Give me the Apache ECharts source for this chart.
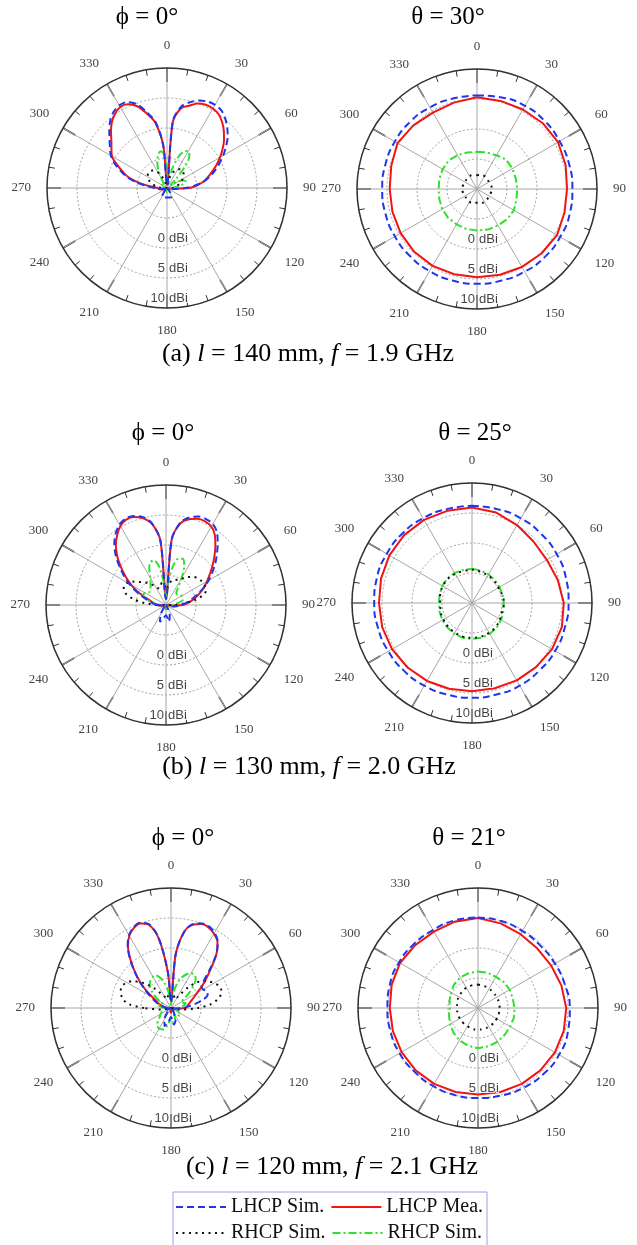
<!DOCTYPE html>
<html><head><meta charset="utf-8">
<script src="https://cdn.jsdelivr.net/npm/echarts@6/dist/echarts.min.js"></script>
<style>html,body{margin:0;padding:0;background:#fff}#c{width:637px;height:1245px}</style>
</head><body><div id="c"></div>
<script>
// ---------- angles ----------
const ELEV_ANGLES = [270,275,280,285,290,295,300,305,310,315,320,325,330,335,340,345,350,355,
  0,5,10,15,20,25,30,35,40,45,50,55,60,65,70,75,80,85,90,
  100,110,120,130,140,150,160,170,180,190,200,210,220,230,240,250,260];
const AZ_ANGLES = [0,15,30,45,60,75,90,105,120,135,150,165,180,195,210,225,240,255,270,285,300,315,330,345];

// ---------- (a) l = 140 mm, phi = 0 cut (dBi) ----------
const A_RED_E = [-8.5,-7.3,-5.5,-3.5,-2.2,-0.8,0.6,1.3,2.1,3.2,4.3,5.1,5.6,5.4,4.5,2.8,1.0,-3.0,
  -9.5,1.0,3.5,4.2,5.0,5.3,5.3,5.0,4.3,3.4,2.4,1.3,0.2,-0.9,-2.0,-2.9,-3.8,-5.0,-6.3,
  -9.5,-9.8,-10,-10,-10,-10,-10,-10,-10,-10,-10,-10,-10,-10,-9.8,-9.3,-8.7];
const A_BLUE_E = [-8,-6.8,-5.0,-3.2,-1.8,-0.4,0.8,1.6,2.5,3.6,4.7,5.5,5.9,5.8,4.9,3.1,1.2,-2.8,
  -9.5,1.2,3.8,4.8,5.5,5.9,6.0,5.8,5.1,4.2,3.2,2.0,0.8,-0.4,-1.5,-2.6,-3.8,-5.3,-7.0,
  -9,-9.5,-10,-10,-9.5,-8.4,-8.3,-8.4,-8.4,-8.4,-8.3,-8.4,-9.5,-10,-10,-9.6,-9];
const A_GREEN_E = [-10,-9.6,-9.3,-9.4,-9.8,-9.6,-9.2,-9.0,-9.1,-9.4,-9.5,-9.0,-8.0,-6.5,-5.3,-4.3,-3.8,-4.3,
  -6.5,-9.0,-9.2,-6.8,-4.5,-3.3,-2.9,-3.5,-5.5,-8.0,-9.3,-8.8,-7.8,-7.0,-6.7,-7.0,-7.8,-8.8,-9.5,
  -9.8,-10,-10,-10,-10,-10,-9.8,-9.5,-9.3,-9.5,-9.8,-10,-10,-10,-10,-10,-10];
const A_BLACK_E = [-9.0,-8.5,-8.0,-7.5,-7.0,-6.6,-6.3,-6.1,-6.0,-6.0,-6.2,-6.5,-7.0,-7.7,-8.4,-9.0,-9.4,-9.7,
  -9.8,-9.5,-8.8,-8.0,-7.3,-6.8,-6.4,-6.2,-6.1,-6.2,-6.4,-6.7,-7.0,-7.4,-7.8,-8.1,-8.4,-8.7,-9.0,
  -10,-10,-10,-10,-10,-10,-10,-10,-10,-10,-10,-10,-10,-10,-10,-10,-10];

// ---------- (a) theta = 30 cut ----------
const A_RED_AZ = [5.3,5.2,5.3,5.5,5.6,5.3,5.0,5.1,5.4,5.2,5.0,4.8,4.7,4.7,4.8,4.8,4.7,4.6,4.55,4.8,5.3,5.0,4.7,4.9];
const A_BLUE_AZ = [5.6,5.8,6.0,6.0,5.9,5.9,5.9,6.0,6.0,6.0,5.9,5.8,5.8,5.8,5.8,5.8,5.8,5.8,5.8,5.8,5.8,5.8,5.7,5.6];
const A_GREEN_AZ = [-3.8,-3.7,-3.5,-3.1,-3.2,-3.3,-3.3,-3.2,-2.9,-2.9,-3.0,-3.0,-3.1,-3.1,-3.2,-3.2,-3.3,-3.5,-3.6,-3.5,-3.4,-3.3,-3.5,-3.7];
const A_BLACK_AZ = [-7.7,-7.6,-7.5,-7.6,-7.7,-7.6,-7.5,-7.6,-7.7,-7.6,-7.5,-7.6,-7.7,-7.6,-7.5,-7.6,-7.7,-7.6,-7.5,-7.6,-7.7,-7.6,-7.5,-7.6];

// ---------- (b) l = 130 mm, phi = 0 cut ----------
const B_RED_E = [-8.5,-8.2,-7.8,-7.3,-6.3,-4.8,-3.3,-1.8,-0.2,1.5,3.0,4.2,5.2,5.7,5.6,5.0,3.8,0.8,
  -9.0,1.0,3.8,4.8,5.3,5.4,5.1,4.2,2.8,1.4,0.1,-1.1,-2.1,-3.0,-3.9,-4.8,-5.6,-6.4,-7.2,
  -9.5,-10,-10,-10,-10,-10,-10,-9.5,-9.3,-9.5,-10,-10,-10,-10,-10,-10,-9.2];
const B_BLUE_E = [-8.5,-8.0,-7.5,-6.8,-5.8,-4.4,-2.9,-1.4,0.2,1.9,3.4,4.6,5.5,5.9,5.8,5.2,3.9,0.8,
  -9.0,1.0,4.0,5.1,5.7,5.8,5.6,4.8,3.4,2.0,0.7,-0.6,-1.8,-3.0,-4.2,-5.2,-6.0,-6.8,-7.5,
  -8.5,-9.5,-10,-10,-10,-9.5,-8.2,-7.2,-8.3,-7.8,-7.0,-8.3,-9.5,-10,-10,-10,-9.5];
const B_GREEN_E = [-9.0,-8.5,-7.6,-6.7,-6.0,-5.8,-6.0,-6.4,-6.5,-6.3,-6.0,-5.5,-4.8,-3.4,-2.4,-2.3,-3.6,-6.5,
  -8.5,-6.5,-3.5,-2.0,-1.8,-2.8,-4.8,-6.5,-7.3,-7.5,-7.3,-7.1,-7.0,-7.0,-7.0,-7.2,-7.8,-8.5,-9.0,
  -9.5,-10,-10,-10,-10,-10,-10,-9.6,-9.3,-9.6,-10,-10,-10,-10,-10,-10,-9.5];
const B_BLACK_E = [-8.5,-6.5,-4.6,-3.2,-2.5,-2.3,-2.6,-3.2,-4.0,-4.6,-5.2,-5.8,-6.4,-6.9,-7.0,-6.6,-6.2,-6.6,
  -7.5,-7.0,-6.2,-5.7,-5.5,-5.4,-5.0,-4.4,-3.9,-3.4,-3.1,-2.9,-2.8,-2.8,-2.9,-3.6,-5.0,-7.0,-8.5,
  -10,-10,-10,-10,-10,-10,-10,-10,-10,-10,-10,-10,-10,-10,-10,-10,-10];

// ---------- (b) theta = 25 cut ----------
const B_RED_AZ = [5.9,5.6,5.0,4.5,4.4,4.8,5.3,5.5,5.4,5.1,4.9,4.7,4.7,4.8,5.0,5.2,5.4,5.5,5.5,5.7,5.9,6.0,6.0,5.9];
const B_BLUE_AZ = [6.2,6.2,6.3,6.3,6.3,6.2,6.1,6.0,6.0,5.9,5.9,5.8,5.8,5.8,5.9,6.0,6.1,6.2,6.3,6.4,6.4,6.4,6.3,6.2];
const B_GREEN_AZ = [-4.3,-4.4,-4.5,-4.6,-4.7,-4.7,-4.7,-4.6,-4.4,-4.2,-4.1,-4.0,-4.0,-4.0,-4.1,-4.2,-4.3,-4.4,-4.5,-4.4,-4.3,-4.2,-4.2,-4.3];
const B_BLACK_AZ = [-4.4,-4.6,-4.7,-4.8,-4.9,-4.8,-4.7,-4.8,-4.6,-4.4,-4.3,-4.2,-4.2,-4.2,-4.3,-4.4,-4.5,-4.6,-4.7,-4.5,-4.4,-4.3,-4.4,-4.5];

// ---------- (c) l = 120 mm, phi = 0 cut ----------
const C_RED_E = [-9.5,-9.2,-8.8,-8.3,-7.8,-7.3,-6.5,-5.0,-3.3,-1.5,0.5,2.5,3.9,4.7,5.0,4.4,1.8,-4.0,
  -9.0,-1.0,3.0,4.4,4.9,4.8,4.3,3.5,1.8,-0.5,-2.3,-3.7,-5.0,-5.8,-6.4,-6.8,-7.1,-7.3,-7.5,
  -9.5,-10,-10,-10,-10,-10,-10,-9.5,-9.2,-9.5,-10,-10,-10,-10,-10,-10,-9.8];
const C_BLUE_E = [-9.5,-9.0,-8.5,-8.0,-7.5,-6.8,-6.0,-4.8,-3.2,-1.4,0.6,2.6,4.0,4.8,5.1,4.5,1.9,-4.0,
  -9.0,-1.0,3.0,4.5,5.0,5.0,4.5,3.6,1.8,-0.8,-2.8,-3.8,-3.8,-3.4,-3.5,-4.4,-5.8,-7.3,-8.0,
  -9.5,-10,-10,-10,-9.5,-9.0,-7.8,-7.2,-8.5,-7.6,-6.8,-7.8,-9.0,-9.5,-9.2,-9.5,-10];
const C_GREEN_E = [-9.0,-8.5,-8.0,-8.0,-8.5,-8.5,-8.0,-7.0,-6.0,-5.0,-4.5,-4.2,-4.0,-4.0,-4.6,-5.6,-7.0,-8.5,
  -9.5,-8.5,-7.0,-5.5,-4.5,-3.8,-3.3,-3.2,-3.6,-4.6,-6.0,-7.4,-8.0,-8.0,-7.5,-7.5,-8.0,-8.5,-9.0,
  -9.5,-9.0,-8.5,-8.0,-8.5,-9.0,-8.0,-7.5,-8.5,-7.2,-6.2,-6.0,-6.4,-7.5,-8.0,-8.5,-9.0];
const C_BLACK_E = [-5.5,-3.0,-1.9,-1.4,-1.1,-1.1,-1.5,-2.2,-3.3,-4.5,-5.8,-7.0,-7.8,-8.3,-8.4,-8.0,-7.8,-8.0,
  -8.5,-8.0,-7.8,-8.0,-8.4,-8.4,-8.0,-7.0,-5.5,-4.0,-3.0,-2.3,-1.7,-1.2,-1.1,-1.4,-2.2,-3.5,-5.5,
  -8.5,-10,-10,-10,-10,-10,-10,-10,-10,-10,-10,-10,-10,-10,-10,-10,-8.5];

// ---------- (c) theta = 21 cut ----------
const C_RED_AZ = [5.0,4.6,4.2,4.0,4.1,4.4,4.7,4.8,4.8,4.7,4.6,4.5,4.4,4.5,4.6,4.7,4.7,4.7,4.7,4.9,5.0,4.8,4.7,4.9];
const C_BLUE_AZ = [5.1,5.0,4.8,4.7,4.8,5.0,5.3,5.5,5.6,5.5,5.3,5.1,5.0,5.0,5.0,5.0,5.1,5.1,5.1,5.2,5.2,5.1,5.0,5.1];
const C_GREEN_AZ = [-3.9,-3.9,-4.0,-3.9,-3.9,-4.0,-3.9,-3.8,-3.8,-3.7,-3.5,-3.4,-3.3,-3.5,-3.8,-4.2,-4.6,-5.0,-5.3,-5.1,-4.8,-4.4,-4.1,-4.0];
const C_BLACK_AZ = [-6.1,-6.2,-6.3,-6.4,-6.4,-6.4,-6.4,-6.4,-6.4,-6.4,-6.4,-6.4,-6.4,-6.4,-6.5,-6.5,-6.5,-6.5,-6.5,-6.4,-6.3,-6.2,-6.1,-6.1];

// ---------- texts ----------
const TITLES = ['\u03d5 = 0\u00b0', '\u03b8 = 30\u00b0', '\u03d5 = 0\u00b0', '\u03b8 = 25\u00b0', '\u03d5 = 0\u00b0', '\u03b8 = 21\u00b0'];
const CAPTIONS = ['(a) {i|l} = 140 mm, {i|f} = 1.9 GHz', '(b) {i|l} = 130 mm, {i|f} = 2.0 GHz', '(c) {i|l} = 120 mm, {i|f} = 2.1 GHz'];
const RADIAL_TICKS = [0, 5, 10];
const RADIAL_UNIT = 'dBi';
const NAMES = {blue: 'LHCP Sim.', red: 'LHCP Mea.', black: 'RHCP Sim.', green: 'RHCP Sim.|g'};

// ---------- layout ----------
const LAYOUT = [
  {center: [167, 188], title: [147, 17]},
  {center: [477, 189], title: [448, 17]},
  {center: [166, 605], title: [163, 433]},
  {center: [472, 603], title: [475, 433]},
  {center: [171, 1008], title: [183, 838]},
  {center: [478, 1008], title: [469, 838]}
];
const CAPTION_POS = [[308, 354], [309, 767], [332, 1167]];
const PLOTS = [
  {angles: ELEV_ANGLES, red: A_RED_E, blue: A_BLUE_E, green: A_GREEN_E, black: A_BLACK_E, elev: true},
  {angles: AZ_ANGLES, red: A_RED_AZ, blue: A_BLUE_AZ, green: A_GREEN_AZ, black: A_BLACK_AZ, elev: false},
  {angles: ELEV_ANGLES, red: B_RED_E, blue: B_BLUE_E, green: B_GREEN_E, black: B_BLACK_E, elev: true},
  {angles: AZ_ANGLES, red: B_RED_AZ, blue: B_BLUE_AZ, green: B_GREEN_AZ, black: B_BLACK_AZ, elev: false},
  {angles: ELEV_ANGLES, red: C_RED_E, blue: C_BLUE_E, green: C_GREEN_E, black: C_BLACK_E, elev: true},
  {angles: AZ_ANGLES, red: C_RED_AZ, blue: C_BLUE_AZ, green: C_GREEN_AZ, black: C_BLACK_AZ, elev: false}
];
const STYLE = {
  red:   {color: '#f01414', type: 'solid', width: 2},
  green: {color: '#2ee02e', type: [8, 3, 2, 3], width: 2},
  black: {color: '#111111', type: [2, 4.5], width: 2},
  blue:  {color: '#1f35ee', type: [7, 4], width: 2}
};
const SERIF = '"Liberation Serif", "Times New Roman", serif';
const SANS = '"Liberation Sans", Arial, sans-serif';

const polar = [], angleAxis = [], radiusAxis = [], series = [], graphic = [];

function loop(angles, vals) {
  const d = angles.map((a, i) => [vals[i], a]);
  d.push(d[0]);
  return d;
}

LAYOUT.forEach((L, i) => {
  polar.push({center: L.center, radius: [0, 120]});
  angleAxis.push({
    polarIndex: i, type: 'value', min: 0, max: 360, interval: 30,
    startAngle: 90, clockwise: true,
    axisLine: {show: true, lineStyle: {color: '#333', width: 1.5}},
    axisTick: {show: true, inside: true, length: 14, lineStyle: {color: '#333', width: 1.5}},
    minorTick: {show: true, splitNumber: 3, length: 6, lineStyle: {color: '#333', width: 1}},
    splitLine: {show: true, lineStyle: {color: '#a8a8a8', width: 1}},
    axisLabel: {margin: 16, fontFamily: SERIF, fontSize: 13, color: '#444',
      formatter: v => (v === 360 ? '' : String(v))}
  });
  radiusAxis.push({
    polarIndex: i, type: 'value', min: -10, max: 10, interval: 5,
    axisLine: {show: false}, axisTick: {show: false}, axisLabel: {show: false},
    splitLine: {show: true, lineStyle: {color: '#a0a0a0', width: 1, type: [2, 2]}}
  });
  const P = PLOTS[i];
  ['red', 'green', 'black', 'blue'].forEach(k => {
    let smooth = 0;
    if (P.elev) smooth = 0.3;
    else if (k === 'blue' || k === 'black') smooth = 0.5;
    series.push({
      type: 'line', name: NAMES[k], coordinateSystem: 'polar', polarIndex: i,
      data: loop(P.angles, P[k]), symbol: 'none', showSymbol: false, smooth: smooth,
      lineStyle: STYLE[k], itemStyle: {color: STYLE[k].color},
      silent: true, animation: false, clip: true
    });
  });
  const labelData = [];
  RADIAL_TICKS.forEach(t => {
    labelData.push({value: [t, 180], label: {formatter: String(t), align: 'right', offset: [-2, 0]}});
    labelData.push({value: [t, 180], label: {formatter: RADIAL_UNIT, align: 'left', offset: [2, 0]}});
  });
  series.push({
    type: 'scatter', name: 'radial-labels', coordinateSystem: 'polar', polarIndex: i,
    symbolSize: 0, silent: true, animation: false, clip: false, z: 5,
    label: {show: true, position: 'top', distance: 3, fontFamily: SANS, fontSize: 13,
      color: '#111', textBorderColor: '#fff', textBorderWidth: 2},
    data: labelData
  });
  graphic.push({
    type: 'text', x: L.title[0], y: L.title[1], silent: true,
    style: {text: TITLES[i], fill: '#000', fontSize: 25, fontFamily: SERIF,
      align: 'center', verticalAlign: 'middle', textAlign: 'center', textVerticalAlign: 'middle'}
  });
});

CAPTIONS.forEach((c, i) => {
  graphic.push({
    type: 'text', x: CAPTION_POS[i][0], y: CAPTION_POS[i][1], silent: true,
    style: {text: c, fill: '#000', fontSize: 26, fontFamily: SERIF,
      align: 'center', verticalAlign: 'middle', textAlign: 'center', textVerticalAlign: 'middle',
      rich: {i: {fontStyle: 'italic', fontSize: 26, fontFamily: SERIF, fill: '#000'}}}
  });
});

const chart = echarts.init(document.getElementById('c'), null, {renderer: 'canvas'});
chart.setOption({
  animation: false,
  backgroundColor: '#fff',
  polar, angleAxis, radiusAxis, series, graphic,
  legend: {
    data: [NAMES.blue, NAMES.red, NAMES.black, NAMES.green],
    formatter: n => n.split('|')[0],
    left: 173, top: 1192, width: 312, orient: 'horizontal',
    itemWidth: 50, itemHeight: 14, itemGap: 6,
    padding: [5, 4, 5, 2], borderColor: '#9c9cf0', borderWidth: 1,
    backgroundColor: '#fff', selectedMode: false,
    itemStyle: {opacity: 0, color: 'rgba(0,0,0,0)', borderWidth: 0},
    textStyle: {fontFamily: SERIF, fontSize: 20, color: '#111'}
  }
});
</script></body></html>
